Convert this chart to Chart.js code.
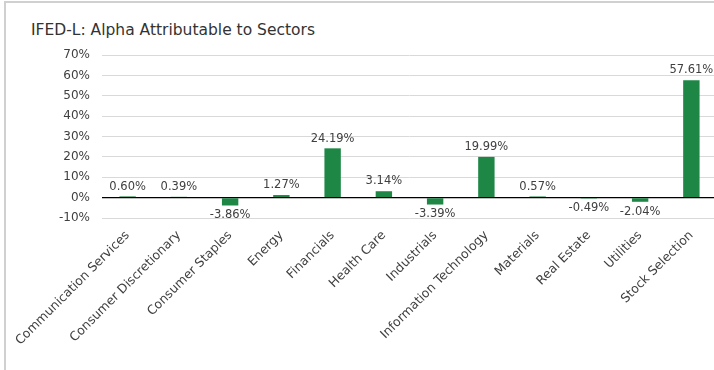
<!DOCTYPE html>
<html>
<head>
<meta charset="utf-8">
<script src="https://cdn.jsdelivr.net/npm/chart.js@4"></script>
<style>
  html, body { margin:0; padding:0; background:#fff; overflow:hidden; width:714px; height:370px; }
  #frame { position:absolute; left:4px; top:1px; width:760px; height:400px; border-left:2px solid #d0d0d0; border-top:2px solid #d0d0d0; }
  #title { position:absolute; left:31px; top:21px; font-family:'DejaVu Sans', sans-serif; font-size:15.5px; color:#333; white-space:nowrap; }
  #wrap { position:absolute; left:0; top:0; width:718px; height:370px; }
</style>
</head>
<body>
<div id="frame"></div>
<div id="title">IFED-L: Alpha Attributable to Sectors</div>
<div id="wrap"><canvas id="c"></canvas></div>
<script>
const categories = ["Communication Services","Consumer Discretionary","Consumer Staples","Energy","Financials","Health Care","Industrials","Information Technology","Materials","Real Estate","Utilities","Stock Selection"];
const alphaValues = [0.60, 0.39, -3.86, 1.27, 24.19, 3.14, -3.39, 19.99, 0.57, -0.49, -2.04, 57.61];
const yTicks = [-10, 0, 10, 20, 30, 40, 50, 60, 70];

const FONT = "'DejaVu Sans', sans-serif";
const TXT = '#404040';

const labelPlugin = {
  id: 'valLabels',
  afterDatasetsDraw(chart) {
    const ctx = chart.ctx;
    const meta = chart.getDatasetMeta(0);
    ctx.save();
    ctx.font = '11.5px ' + FONT;
    ctx.fillStyle = TXT;
    ctx.textAlign = 'center';
    meta.data.forEach((bar, i) => {
      const v = alphaValues[i];
      const txt = v.toFixed(2) + '%';
      if (v >= 0) {
        ctx.textBaseline = 'bottom';
        ctx.fillText(txt, bar.x, bar.y - 4);
      } else {
        ctx.textBaseline = 'top';
        ctx.fillText(txt, bar.x, bar.y + 4);
      }
    });
    ctx.restore();
  }
};

new Chart(document.getElementById('c'), {
  type: 'bar',
  data: {
    labels: categories,
    datasets: [{
      data: alphaValues,
      backgroundColor: '#1e8746',
      categoryPercentage: 1,
      barPercentage: 0.32
    }]
  },
  options: {
    responsive: true,
    maintainAspectRatio: false,
    animation: false,
    layout: { padding: { top: 55, left: 0, right: 1, bottom: 0 } },
    plugins: { legend: { display: false }, tooltip: { enabled: false } },
    scales: {
      x: {
        grid: { display: false },
        border: { display: false },
        ticks: { color: TXT, font: { family: FONT, size: 12.5 }, maxRotation: 45, minRotation: 45, autoSkip: false, padding: 2 },
        afterFit(s) { s.height = 152; }
      },
      y: {
        min: -10, max: 70,
        afterBuildTicks(s) { s.ticks = yTicks.map(v => ({ value: v })); },
        grid: {
          drawTicks: false,
          color: ctx => ctx.tick && ctx.tick.value === 0 ? '#000' : '#d9d9d9',
          lineWidth: ctx => ctx.tick && ctx.tick.value === 0 ? 1.2 : 1
        },
        border: { display: false },
        ticks: { color: TXT, font: { family: FONT, size: 12 }, padding: 12, callback: v => v + '%' },
        afterFit(s) { s.width = 102; }
      }
    }
  },
  plugins: [labelPlugin]
});
</script>
</body>
</html>
